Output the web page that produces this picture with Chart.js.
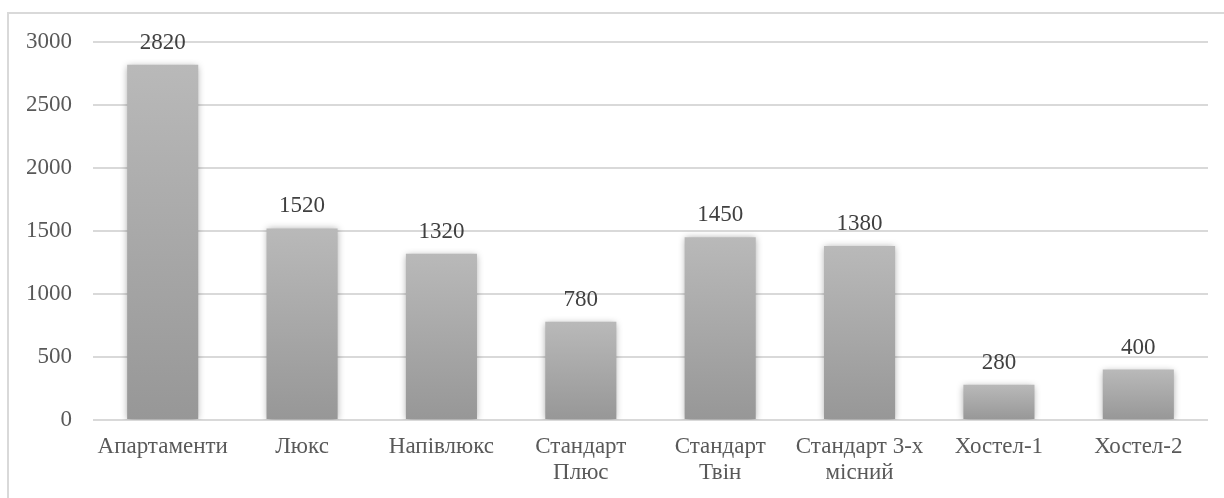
<!DOCTYPE html>
<html>
<head>
<meta charset="utf-8">
<script src="https://cdn.jsdelivr.net/npm/chart.js@4/dist/chart.umd.min.js"></script>
<style>
  html, body { margin: 0; padding: 0; background: #ffffff; }
  #wrap { width: 1224px; height: 498px; position: relative; }
</style>
</head>
<body>
<div id="wrap"><canvas id="c" width="1224" height="498"></canvas></div>
<script>
// Room categories and their values
const categories = [
  'Апартаменти',
  'Люкс',
  'Напівлюкс',
  ['Стандарт', 'Плюс'],
  ['Стандарт', 'Твін'],
  ['Стандарт 3-х', 'місний'],
  'Хостел-1',
  'Хостел-2'
];
const values = [2820, 1520, 1320, 780, 1450, 1380, 280, 400];
const yTicks = [0, 500, 1000, 1500, 2000, 2500, 3000];

const FONT = '"Liberation Serif", "Times New Roman", serif';
const FONT_SIZE = 23;

// Outer chart frame (top and left edges visible)
const framePlugin = {
  id: 'frame',
  beforeDraw(chart) {
    const ctx = chart.ctx;
    ctx.save();
    ctx.strokeStyle = '#d9d9d9';
    ctx.lineWidth = 2;
    ctx.strokeRect(8, 13, 1240, 520);
    ctx.restore();
  }
};

// Soft shadow around each bar
const shadowPlugin = {
  id: 'barShadow',
  beforeDatasetDraw(chart) {
    const ctx = chart.ctx;
    ctx.save();
    ctx.shadowColor = 'rgba(0,0,0,0.35)';
    ctx.shadowBlur = 7;
    ctx.shadowOffsetX = 0;
    ctx.shadowOffsetY = 1;
  },
  afterDatasetDraw(chart) {
    chart.ctx.restore();
  }
};

// Value labels above the bars
const valueLabelPlugin = {
  id: 'valueLabels',
  afterDatasetsDraw(chart) {
    const ctx = chart.ctx;
    const meta = chart.getDatasetMeta(0);
    ctx.save();
    ctx.font = FONT_SIZE + 'px ' + FONT;
    ctx.fillStyle = '#404040';
    ctx.textAlign = 'center';
    ctx.textBaseline = 'alphabetic';
    meta.data.forEach((bar, i) => {
      ctx.fillText(String(values[i]), bar.x, bar.y - 16);
    });
    ctx.restore();
  }
};

function barGradient(context) {
  const chart = context.chart;
  const y = chart.scales && chart.scales.y;
  if (!y || context.dataIndex === undefined) return '#a8a8a8';
  const top = y.getPixelForValue(values[context.dataIndex]);
  const bottom = y.getPixelForValue(0);
  if (!isFinite(top) || !isFinite(bottom) || top === bottom) return '#a8a8a8';
  const g = chart.ctx.createLinearGradient(0, top, 0, bottom);
  g.addColorStop(0, '#b9b9b9');
  g.addColorStop(1, '#979797');
  return g;
}

new Chart(document.getElementById('c'), {
  type: 'bar',
  data: {
    labels: categories,
    datasets: [{
      data: values,
      backgroundColor: barGradient,
      borderWidth: 0,
      categoryPercentage: 1.0,
      barPercentage: 0.51
    }]
  },
  options: {
    responsive: false,
    animation: false,
    devicePixelRatio: 1,
    layout: { padding: { left: 8, right: 16, top: 42, bottom: 0 } },
    plugins: {
      legend: { display: false },
      tooltip: { enabled: false }
    },
    scales: {
      x: {
        grid: { display: false, drawTicks: false },
        border: { display: false },
        ticks: {
          color: '#595959',
          font: { family: FONT, size: FONT_SIZE, lineHeight: 1.17 },
          padding: 13,
          maxRotation: 0,
          autoSkip: false
        },
        afterFit(scale) { scale.height = 78; }
      },
      y: {
        min: 0,
        max: 3000,
        afterBuildTicks(scale) { scale.ticks = yTicks.map(v => ({ value: v })); },
        grid: { color: '#d9d9d9', lineWidth: 2, drawTicks: false },
        border: { display: false },
        ticks: {
          color: '#595959',
          font: { family: FONT, size: FONT_SIZE },
          padding: 21,
          callback: (v) => String(v)
        },
        afterFit(scale) { scale.width = 85; }
      }
    }
  },
  plugins: [framePlugin, shadowPlugin, valueLabelPlugin]
});
</script>
</body>
</html>
